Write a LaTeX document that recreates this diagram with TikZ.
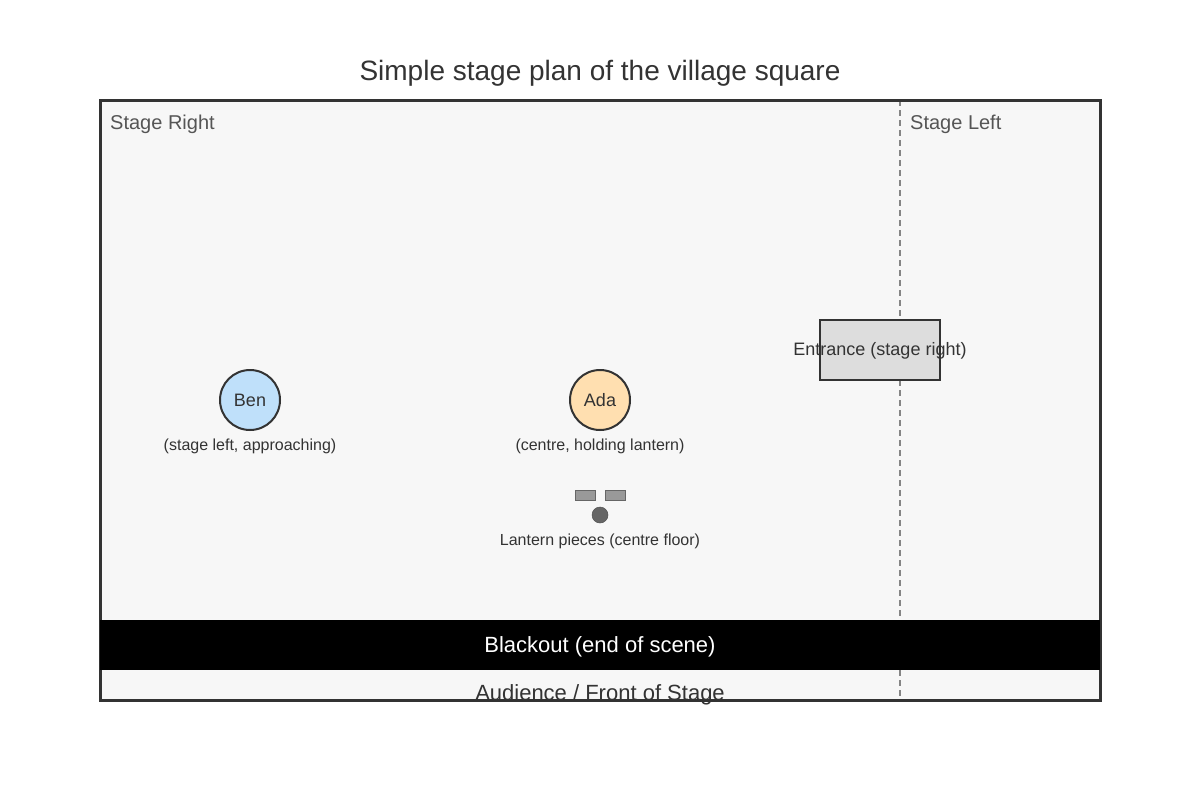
\documentclass[tikz,border=0pt]{standalone}
\usepackage{fontspec}
\setmainfont{Liberation Sans}
\definecolor{bg}{HTML}{F7F7F7}
\definecolor{ink}{HTML}{333333}
\definecolor{soft}{HTML}{555555}
\definecolor{benfill}{HTML}{BFE0FA}
\definecolor{adafill}{HTML}{FFDFB0}
\definecolor{entfill}{HTML}{DDDDDD}
\definecolor{piecefill}{HTML}{999999}
\definecolor{piecedraw}{HTML}{666666}
\tikzset{
  actor/.style={circle, draw=ink, line width=2pt, minimum size=60pt, inner sep=0pt, text=ink, font=\fontsize{18}{20}\selectfont},
  note/.style={text=ink, font=\fontsize{16}{18}\selectfont, inner sep=0pt},
  side/.style={text=soft, font=\fontsize{20}{22}\selectfont, inner sep=0pt, anchor=north west},
  piece/.style={draw=piecedraw, fill=piecefill, line width=1pt, minimum width=20pt, minimum height=10pt, inner sep=0pt},
}
\begin{document}
\begin{tikzpicture}[x=1pt,y=-1pt]
\useasboundingbox[fill=white] (0,0) rectangle (1200,800);
\node[text=ink, font=\fontsize{28}{32}\selectfont] (title) at (600,73) {Simple stage plan of the village square};
\fill[bg] (100,100) rectangle (1100,700);
\draw[piecedraw!80!white, line width=2pt, dash pattern=on 6pt off 4pt] (900,100) -- (900,700);
\node[side] (sr) at (110,115) {Stage Right};
\node[side] (sl) at (910,115) {Stage Left};
\node[draw=ink, fill=entfill, line width=2pt, minimum width=120pt, minimum height=60pt, inner sep=0pt] (ent) at (880,350) {};
\node[text=ink, font=\fontsize{18}{20}\selectfont, inner sep=0pt] (entl) at (880,351) {Entrance (stage right)};
\node[actor, fill=benfill] (ben) at (250,400) {Ben};
\node[note] (benl) at (250,446) {(stage left, approaching)};
\node[actor, fill=adafill] (ada) at (600,400) {Ada};
\node[note] (adal) at (600,446) {(centre, holding lantern)};
\node[piece] (p1) at (585,495) {};
\node[piece] (p2) at (615,495) {};
\node[circle, fill=piecedraw, draw=piecedraw!80!black, line width=0.5pt, minimum size=16pt, inner sep=0pt] (p3) at (600,515) {};
\node[note] (pl) at (600,541) {Lantern pieces (centre floor)};
\node[text=ink, font=\fontsize{22}{24}\selectfont, inner sep=0pt] (aud) at (600,695) {Audience / Front of Stage};
\draw[ink, line width=3pt] (100,100) rectangle (1100,700);
\node[fill=black, minimum width=1000pt, minimum height=50pt, inner sep=0pt] (blackout) at (600,645) {};
\node[text=white, font=\fontsize{22}{24}\selectfont, inner sep=0pt] (blackoutl) at (600,646.5) {Blackout (end of scene)};
\end{tikzpicture}
\end{document}
